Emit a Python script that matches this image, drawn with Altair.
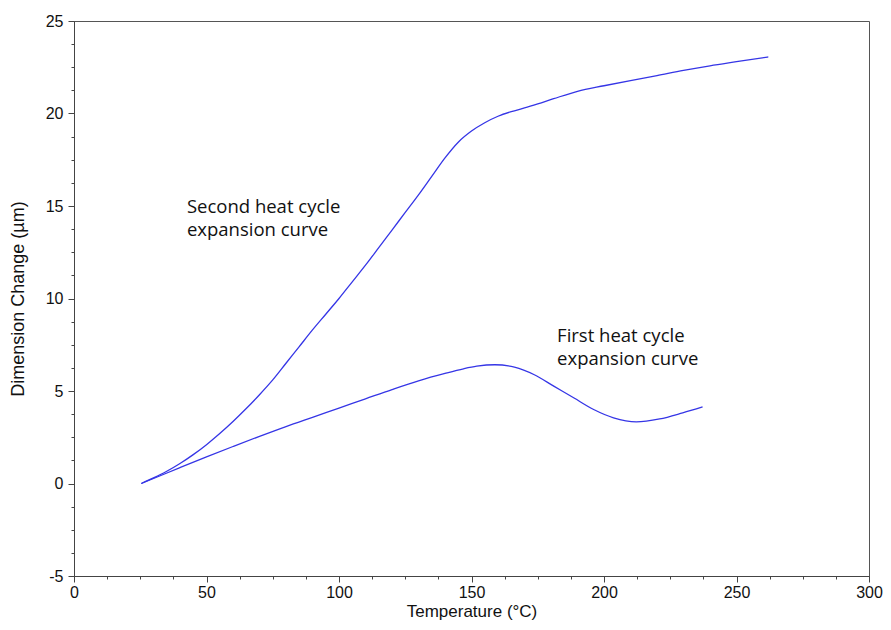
import altair as alt
import pandas as pd

# Second heat cycle expansion curve (Temperature °C, Dimension change µm)
second_T = [25.4, 30, 35, 40, 45, 50, 55, 60, 65, 70, 75, 80, 85, 90, 95, 100, 105, 110,
            115, 120, 125, 130, 135, 140, 145, 150, 155, 160, 165, 170, 175, 181, 190,
            200, 210, 220, 230, 240, 250, 262]
second_D = [0.0, 0.3, 0.66, 1.08, 1.56, 2.1, 2.7, 3.35, 4.05, 4.8, 5.6, 6.5, 7.4, 8.3,
            9.15, 10.0, 10.9, 11.8, 12.75, 13.7, 14.65, 15.6, 16.6, 17.6, 18.45, 19.05,
            19.5, 19.85, 20.1, 20.3, 20.52, 20.8, 21.2, 21.5, 21.78, 22.05, 22.33, 22.58,
            22.8, 23.06]

# First heat cycle expansion curve
first_T = [25.4, 30, 40, 50, 60, 70, 80, 90, 100, 110, 120, 130, 140, 147, 152, 158.8,
           166.2, 173.7, 181.2, 188.7, 196.1, 203.6, 212.2, 221, 229.7, 237.2]
first_D = [0.0, 0.27, 0.86, 1.44, 2.0, 2.55, 3.08, 3.58, 4.08, 4.58, 5.08, 5.55, 5.95,
           6.2, 6.34, 6.42, 6.29, 5.88, 5.25, 4.62, 4.0, 3.55, 3.33, 3.49, 3.82, 4.14]

# Annotations
note_text = ["Second heat cycle\nexpansion curve", "First heat cycle\nexpansion curve"]
note_T = [42.6, 182.3]
note_D = [14.6, 7.65]

x_major = [0, 50, 100, 150, 200, 250, 300]
x_minor = [v * 12.5 for v in range(25)]
y_major = [-5, 0, 5, 10, 15, 20, 25]
y_minor = [-5 + v * 1.25 for v in range(25)]

df = pd.concat([
    pd.DataFrame({"series": "second", "T": second_T, "D": second_D}),
    pd.DataFrame({"series": "first", "T": first_T, "D": first_D}),
])
notes = pd.DataFrame({"label": note_text, "T": note_T, "D": note_D})

xs = alt.Scale(domain=[0, 300], nice=False, zero=False)
ys = alt.Scale(domain=[-5, 25], nice=False, zero=False)

axis_common = dict(domainColor="#444444", tickColor="#444444", grid=False,
                   labelFont="Liberation Sans", labelFontSize=16, labelColor="#111111",
                   labelFlush=False, labelExpr="datum.value",
                   titleFont="Liberation Sans", titleFontWeight="normal",
                   titleColor="#111111")

lines = alt.Chart(df).mark_line(color="#3535e6", strokeWidth=1.3, interpolate="monotone").encode(
    x=alt.X("T:Q", scale=xs, axis=alt.Axis(values=x_major, orient="bottom", tickSize=6,
                                            labelPadding=2, title="Temperature (°C)",
                                            titleFontSize=17, titlePadding=3, **axis_common)),
    y=alt.Y("D:Q", scale=ys, axis=alt.Axis(values=y_major, orient="left", tickSize=6,
                                            labelPadding=5, title="Dimension Change (µm)",
                                            titleFontSize=18, titlePadding=18, **axis_common)),
    detail="series:N",
)

minor = alt.Chart(df).mark_line(opacity=0).encode(
    x=alt.X("T:Q", scale=xs, axis=alt.Axis(values=x_minor, orient="bottom", tickSize=3,
                                            labels=False, domain=False, title=None, grid=False,
                                            tickColor="#444444")),
    y=alt.Y("D:Q", scale=ys, axis=alt.Axis(values=y_minor, orient="left", tickSize=3,
                                            labels=False, domain=False, title=None, grid=False,
                                            tickColor="#444444")),
    detail="series:N",
)

text = alt.Chart(notes).mark_text(align="left", baseline="alphabetic", lineBreak="\n",
                                  lineHeight=23, font="Open Sans", fontSize=18.5,
                                  color="#111111").encode(
    x=alt.X("T:Q", scale=xs, axis=None),
    y=alt.Y("D:Q", scale=ys, axis=None),
    text="label:N",
)

chart = alt.layer(lines, minor, text).resolve_axis(x="independent", y="independent").properties(
    width=795, height=555,
    autosize=alt.AutoSizeParams(type="none"),
    padding={"left": 66, "top": 13, "right": 14, "bottom": 45},
).configure_view(stroke="#555555", strokeWidth=1)

chart.save("out.html", embed_options={"renderer": "svg", "actions": False})
